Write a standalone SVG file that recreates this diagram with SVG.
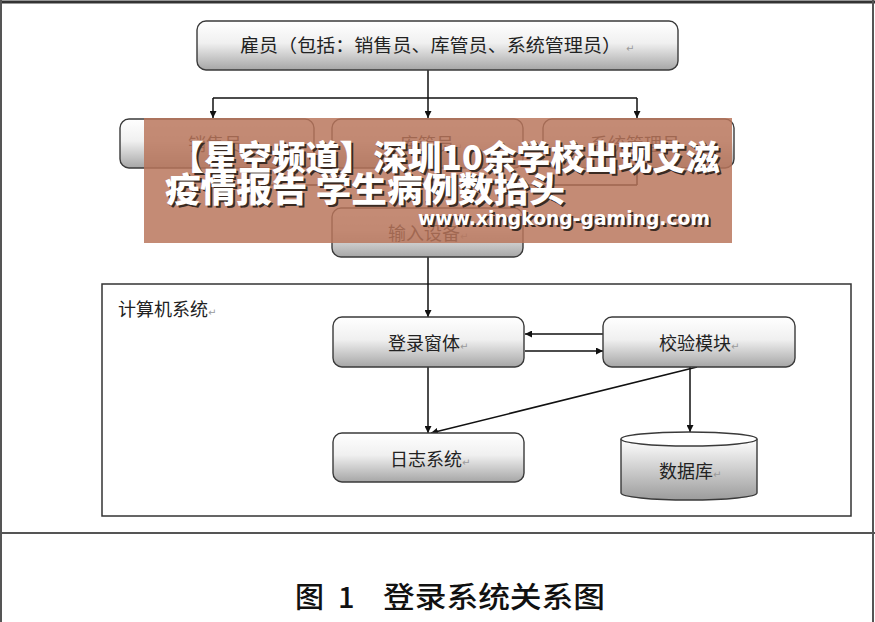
<svg xmlns="http://www.w3.org/2000/svg" width="875" height="622" viewBox="0 0 875 622">
<style>
.box{stroke:#3a3a3a;stroke-width:1.4;fill:url(#g)}
.lbl{font-family:"Noto Sans CJK SC","Noto Sans CJK JP",sans-serif;font-size:18px;fill:#222}
.ret{font-family:"DejaVu Sans",sans-serif;font-size:10px;fill:#9a9a9a}
.edge{stroke:#111;stroke-width:1.5;fill:none}
.arr{marker-end:url(#ah)}
.ov{font-family:"Noto Sans CJK SC",sans-serif;font-weight:900;fill:#fff}
.ovs{font-family:"Noto Sans CJK SC",sans-serif;font-weight:900;fill:#3a2a22}
</style>
<defs>
<linearGradient id="g" x1="0" y1="0" x2="0" y2="1">
<stop offset="0" stop-color="#ffffff"/>
<stop offset="0.45" stop-color="#f0f0f0"/>
<stop offset="1" stop-color="#a6a6a6"/>
</linearGradient>
<linearGradient id="cg" x1="0" y1="0" x2="0" y2="1">
<stop offset="0" stop-color="#ffffff"/>
<stop offset="1" stop-color="#9c9c9c"/>
</linearGradient>
<marker id="ah" viewBox="0 0 10 10" refX="10" refY="5" markerWidth="7" markerHeight="7" markerUnits="userSpaceOnUse" orient="auto">
<path d="M0,0 L10,5 L0,10 z" fill="#111"/>
</marker>
</defs>
<rect width="875" height="622" fill="#fff"/>
<g id="frame" stroke="#555" stroke-width="2" fill="none">
<line x1="0" y1="2" x2="875" y2="2" stroke="#333" stroke-width="3"/>
<line x1="1" y1="0" x2="1" y2="622"/>
<line x1="873" y1="0" x2="873" y2="622"/>
<line x1="0" y1="533" x2="875" y2="533"/>
</g>
<g id="system">
<rect x="102" y="284" width="749" height="232" fill="none" stroke="#333" stroke-width="1.5"/>
<text class="lbl" x="118" y="316">计算机系统<tspan class="ret">↵</tspan></text>
</g>
<g id="connectors">
<line class="edge arr" x1="428" y1="70" x2="428" y2="118"/>
<line class="edge" x1="213" y1="98" x2="637" y2="98"/>
<line class="edge arr" x1="213" y1="98" x2="213" y2="118"/>
<line class="edge arr" x1="637" y1="98" x2="637" y2="118"/>
<line class="edge" x1="213" y1="168" x2="213" y2="185"/>
<line class="edge" x1="637" y1="168" x2="637" y2="185"/>
<line class="edge" x1="213" y1="185" x2="637" y2="185"/>
<line class="edge arr" x1="428" y1="168" x2="428" y2="208"/>
<line class="edge arr" x1="428" y1="257" x2="428" y2="317"/>
<line class="edge arr" x1="603" y1="334" x2="525" y2="334"/>
<line class="edge arr" x1="525" y1="351" x2="603" y2="351"/>
<line class="edge arr" x1="428" y1="367" x2="428" y2="433"/>
<line class="edge arr" x1="697" y1="367" x2="431" y2="433"/>
<line class="edge arr" x1="690" y1="367" x2="690" y2="432"/>
</g>
<g id="employee">
<rect class="box" x="197" y="21" width="481" height="49" rx="9"/>
<text class="lbl" x="240" y="52" textLength="381" lengthAdjust="spacingAndGlyphs">雇员（包括：销售员、库管员、系统管理员）</text>
<text class="ret" x="626" y="52">↵</text>
</g>
<g id="sales">
<rect class="box" x="120" y="119" width="194" height="49" rx="9"/>
<text class="lbl" x="188" y="151">销售员<tspan class="ret">↵</tspan></text>
</g>
<g id="warehouse">
<rect class="box" x="332" y="119" width="191" height="49" rx="9"/>
<text class="lbl" x="400" y="151">库管员<tspan class="ret">↵</tspan></text>
</g>
<g id="admin">
<rect class="box" x="543" y="119" width="191" height="49" rx="9"/>
<text class="lbl" x="590" y="151">系统管理员<tspan class="ret">↵</tspan></text>
</g>
<g id="input">
<rect class="box" x="332" y="208" width="191" height="49" rx="9"/>
<text class="lbl" x="388" y="240">输入设备<tspan class="ret">↵</tspan></text>
</g>
<g id="login">
<rect class="box" x="333" y="317" width="191" height="50" rx="9"/>
<text class="lbl" x="388" y="350">登录窗体<tspan class="ret">↵</tspan></text>
</g>
<g id="verify">
<rect class="box" x="603" y="317" width="192" height="50" rx="9"/>
<text class="lbl" x="659" y="350">校验模块<tspan class="ret">↵</tspan></text>
</g>
<g id="log">
<rect class="box" x="333" y="433" width="191" height="49" rx="9"/>
<text class="lbl" x="390" y="466">日志系统<tspan class="ret">↵</tspan></text>
</g>
<g id="database">
<path d="M621,439 L621,493 A68,7 0 0 0 757,493 L757,439" fill="url(#cg)" stroke="#3a3a3a" stroke-width="1.4"/>
<ellipse cx="689" cy="439" rx="68" ry="7" fill="#fff" stroke="#3a3a3a" stroke-width="1.4"/>
<text class="lbl" x="659" y="478">数据库<tspan class="ret">↵</tspan></text>
</g>
<g id="banner">
<rect x="144" y="118" width="588" height="125" fill="#b9755a" opacity="0.84"/>
<text class="ovs" x="172" y="172" font-size="34" textLength="550" lengthAdjust="spacingAndGlyphs">【星空频道】深圳10余学校出现艾滋</text>
<text class="ov" x="170" y="170" font-size="34" textLength="550" lengthAdjust="spacingAndGlyphs">【星空频道】深圳10余学校出现艾滋</text>
<text class="ovs" x="167" y="204" font-size="34" textLength="400" lengthAdjust="spacingAndGlyphs">疫情报告 学生病例数抬头</text>
<text class="ov" x="165" y="202" font-size="34" textLength="400" lengthAdjust="spacingAndGlyphs">疫情报告 学生病例数抬头</text>
<text x="420" y="227" font-family="DejaVu Sans,sans-serif" font-weight="bold" font-size="20" fill="#3a2a22" textLength="292" lengthAdjust="spacingAndGlyphs">www.xingkong-gaming.com</text>
<text x="418" y="225" font-family="DejaVu Sans,sans-serif" font-weight="bold" font-size="20" fill="#fff" textLength="292" lengthAdjust="spacingAndGlyphs">www.xingkong-gaming.com</text>
</g>
<g id="caption" font-family="Noto Sans CJK SC,sans-serif" font-size="29" font-weight="500" fill="#111">
<text x="295" y="608">图</text>
<text x="338" y="608">1</text>
<text x="383" y="608" textLength="222" lengthAdjust="spacingAndGlyphs">登录系统关系图</text>
</g>
</svg>
